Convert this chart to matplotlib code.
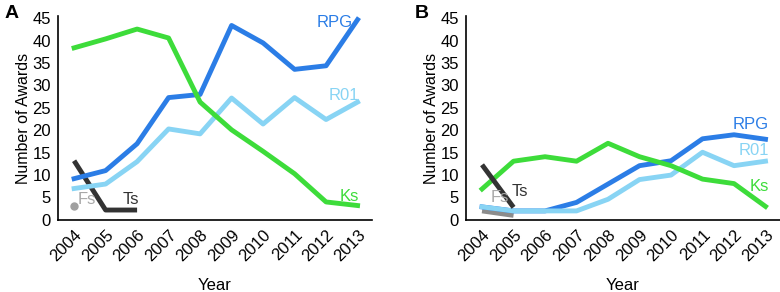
import matplotlib.pyplot as plt

years = [2004, 2005, 2006, 2007, 2008, 2009, 2010, 2011, 2012, 2013]

# panel A
a_rpg = [9.2, 11, 17, 27.3, 28, 43.4, 39.5, 33.6, 34.4, 44.7]
a_r01 = [7, 8, 13, 20.3, 19.2, 27.2, 21.4, 27.3, 22.4, 26.3]
a_ks = [38.4, 40.4, 42.6, 40.6, 26.3, 20.1, 15.3, 10.3, 4, 3.2]
a_ts_years = [2004, 2005, 2006]
a_ts = [13.2, 2.2, 2.2]
a_fs_years = [2004]
a_fs = [3]

# panel B
b_rpg = [2.9, 2, 2, 3.9, 8, 12.1, 13.2, 18.1, 19, 18]
b_r01 = [2.9, 2, 2, 2, 4.6, 9, 10, 15.1, 12.1, 13.1]
b_ks = [6.9, 13.1, 14.1, 13.1, 17.1, 14.1, 12.1, 9.1, 8.1, 3]
b_ts_years = [2004, 2005]
b_ts = [12.3, 2.8]
b_fs_years = [2004, 2005]
b_fs = [2, 1]

c_rpg = '#2b7de6'
c_r01 = '#88d4f4'
c_ks = '#3ddc3a'
c_ts = '#333333'
c_fs = '#8c8c8c'
c_fs_txt = '#a8a8a8'

plt.rcParams['font.family'] = ['Liberation Sans', 'DejaVu Sans']

fig = plt.figure(figsize=(7.8, 2.92), dpi=100)
ax1 = fig.add_axes([0.0744, 0.247, 0.4026, 0.698])
ax2 = fig.add_axes([0.5974, 0.247, 0.4026, 0.698])

lw = 3.5
fs_lab = 12

ax1.plot(a_ts_years, a_ts, color=c_ts, lw=lw, solid_capstyle='butt')
ax1.plot(a_fs_years, a_fs, 'o', color='#a0a0a0', ms=5)
ax1.plot(years, a_r01, color=c_r01, lw=lw)
ax1.plot(years, a_rpg, color=c_rpg, lw=lw)
ax1.plot(years, a_ks, color=c_ks, lw=lw)
ax1.text(2012.85, 44, 'RPG', color=c_rpg, ha='right', va='center', fontsize=fs_lab)
ax1.text(2013.05, 27.8, 'R01', color=c_r01, ha='right', va='center', fontsize=fs_lab)
ax1.text(2013.05, 5.2, 'Ks', color=c_ks, ha='right', va='center', fontsize=fs_lab)
ax1.text(2005.8, 4.6, 'Ts', color=c_ts, ha='center', va='center', fontsize=fs_lab)
ax1.text(2004.1, 4.6, 'Fs', color=c_fs_txt, ha='left', va='center', fontsize=fs_lab)

ax2.plot(b_fs_years, b_fs, color=c_fs, lw=lw, solid_capstyle='butt')
ax2.plot(years, b_rpg, color=c_rpg, lw=lw)
ax2.plot(years, b_r01, color=c_r01, lw=lw)
ax2.plot(years, b_ks, color=c_ks, lw=lw)
ax2.plot(b_ts_years, b_ts, color=c_ts, lw=lw, solid_capstyle='butt')
ax2.text(2013.1, 21.4, 'RPG', color=c_rpg, ha='right', va='center', fontsize=fs_lab)
ax2.text(2013.1, 15.4, 'R01', color=c_r01, ha='right', va='center', fontsize=fs_lab)
ax2.text(2013.1, 7.4, 'Ks', color=c_ks, ha='right', va='center', fontsize=fs_lab)
ax2.text(2005.2, 6.3, 'Ts', color=c_ts, ha='center', va='center', fontsize=fs_lab)
ax2.text(2004.55, 5.0, 'Fs', color=c_fs_txt, ha='center', va='center', fontsize=fs_lab)

for ax in (ax1, ax2):
    ax.set_xlim(2003.49, 2013.46)
    ax.set_ylim(0, 45.5)
    ax.set_xticks(years)
    ax.set_xticklabels([str(y) for y in years], rotation=45, ha='right',
                       rotation_mode='anchor')
    ax.set_yticks(range(0, 46, 5))
    ax.tick_params(length=0, pad=5, labelsize=12)
    ax.spines['top'].set_visible(False)
    ax.spines['right'].set_visible(False)
    ax.spines['left'].set_linewidth(1.2)
    ax.spines['bottom'].set_linewidth(1.2)
    ax.set_xlabel('Year', fontsize=12, labelpad=10)
    ax.set_ylabel('Number of Awards', fontsize=11.5, labelpad=1)

fig.text(0.006, 0.955, 'A', fontsize=14, fontweight='bold', va='center')
fig.text(0.532, 0.955, 'B', fontsize=14, fontweight='bold', va='center')

fig.savefig('out.png', dpi=100)
